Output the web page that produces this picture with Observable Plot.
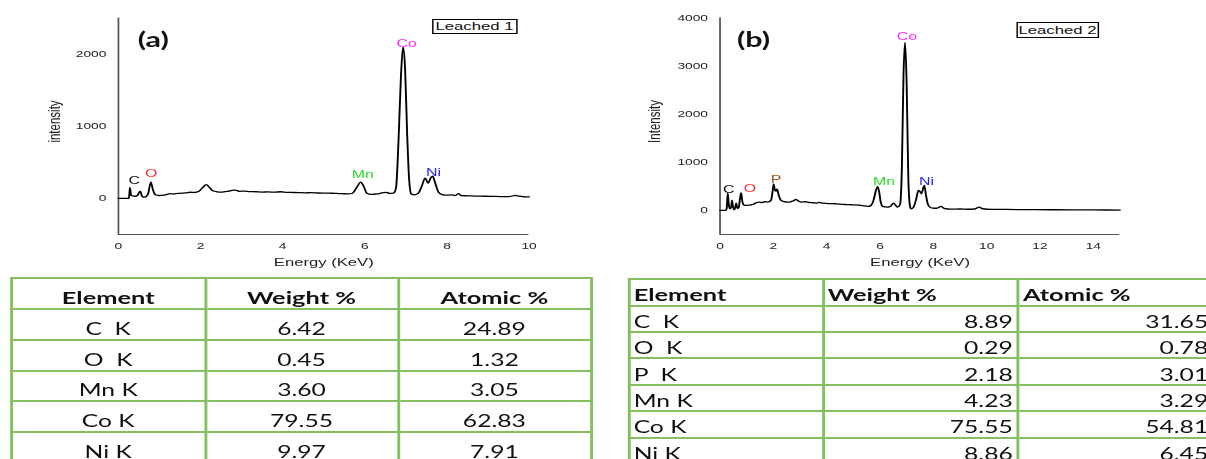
<!DOCTYPE html>
<html>
<head>
<meta charset="utf-8">
<script src="https://cdn.jsdelivr.net/npm/d3@7"></script>
<script src="https://cdn.jsdelivr.net/npm/@observablehq/plot@0.6"></script>
<style>
  html, body { margin: 0; padding: 0; background: #fff; overflow: hidden; width: 1206px; height: 459px; }
  #stage { position: relative; height: 459px; transform-origin: 0 0; overflow: hidden; }
  .panel { position: absolute; top: 0; }
  .legend { position: absolute; box-sizing: border-box; border: 1px solid #000; background: #fff;
            font-family: 'Liberation Sans', Arial, sans-serif; font-size: 11.5px; color: #111;
            text-align: center; white-space: pre; }
  .tbl { position: absolute; border-collapse: collapse; table-layout: fixed; font-family: Lato, sans-serif; color: #111; }
  .tbl td, .tbl th { border: 2px solid #86bf60; padding: 0; overflow: hidden; white-space: pre; vertical-align: middle; line-height: 1; }
  .tbl th { font-weight: bold; font-size: 17.5px; }
  .tbl td { font-weight: normal; font-size: 17px; }
</style>
</head>
<body>
<div id="stage"></div>
<script>
// ---------- data ----------
// Spectrum (a) "Leached 1": [energy keV, intensity counts]
const spectrumA = [
  [0,0],[0.25,0],[0.26,20],[0.28,148],[0.31,40],[0.36,35],[0.42,30],[0.47,45],[0.53,101],[0.58,25],
  [0.65,18],[0.72,60],[0.79,226],[0.84,120],[0.9,50],[0.98,40],[1.05,42],[1.15,50],[1.25,65],[1.35,62],
  [1.45,70],[1.55,72],[1.65,78],[1.75,85],[1.85,82],[1.95,95],[2.05,150],[2.14,190],[2.22,150],[2.3,105],
  [2.4,92],[2.5,88],[2.6,95],[2.7,100],[2.8,115],[2.88,110],[2.95,98],[3.05,101],[3.2,94],[3.35,92],
  [3.5,88],[3.65,90],[3.8,86],[3.95,92],[4.1,84],[4.25,82],[4.4,80],[4.55,78],[4.7,79],[4.85,75],
  [5.0,73],[5.15,72],[5.3,70],[5.45,65],[5.6,62],[5.7,72],[5.8,150],[5.9,226],[5.97,170],[6.05,70],
  [6.15,55],[6.3,62],[6.45,80],[6.52,83],[6.6,70],[6.7,74],[6.76,150],[6.82,800],[6.88,1700],[6.93,2097],
  [6.98,1800],[7.03,900],[7.08,250],[7.13,60],[7.2,50],[7.3,70],[7.38,160],[7.47,281],[7.54,212],[7.6,280],
  [7.65,309],[7.72,200],[7.8,80],[7.9,50],[8.0,45],[8.1,48],[8.2,40],[8.28,65],[8.35,38],[8.5,36],
  [8.7,32],[8.9,30],[9.1,28],[9.3,26],[9.5,25],[9.67,42],[9.75,30],[9.9,22],[10.0,20]
];
// Spectrum (b) "Leached 2"
const spectrumB = [
  [0,0],[0.22,0],[0.25,40],[0.29,361],[0.33,120],[0.37,35],[0.42,80],[0.45,208],[0.49,60],[0.54,15],
  [0.58,90],[0.61,150],[0.65,40],[0.7,60],[0.75,250],[0.79,365],[0.84,180],[0.9,110],[0.98,104],[1.08,110],
  [1.16,118],[1.26,130],[1.35,160],[1.47,174],[1.58,165],[1.68,180],[1.79,174],[1.91,208],[1.96,350],[2.01,545],
  [2.06,420],[2.1,400],[2.14,440],[2.2,320],[2.29,208],[2.4,185],[2.54,174],[2.65,180],[2.75,200],[2.85,229],
  [2.92,200],[3.04,174],[3.2,180],[3.35,165],[3.5,160],[3.62,150],[3.72,167],[3.85,150],[4.0,145],[4.15,140],
  [4.29,139],[4.45,132],[4.6,125],[4.75,122],[4.91,118],[5.05,115],[5.2,110],[5.35,100],[5.54,83],[5.65,100],
  [5.75,200],[5.85,420],[5.91,493],[5.97,380],[6.03,160],[6.1,83],[6.2,75],[6.29,69],[6.4,90],[6.51,153],
  [6.58,110],[6.66,69],[6.75,120],[6.82,900],[6.88,2800],[6.94,3493],[7.0,2600],[7.06,700],[7.12,100],[7.16,35],
  [7.25,60],[7.35,220],[7.44,417],[7.5,390],[7.56,347],[7.61,450],[7.66,521],[7.72,330],[7.8,120],[7.91,56],
  [8.05,45],[8.15,50],[8.29,83],[8.4,45],[8.66,28],[9.0,30],[9.3,25],[9.55,30],[9.72,69],[9.85,35],
  [10.2,22],[10.7,20],[11.2,18],[11.8,15],[12.5,14],[13.2,12],[14.0,10],[15.0,8]
];

// Peak labels (element, energy keV, intensity)
const peakNamesA = ["C", "O", "Mn", "Co", "Ni"];
const peakKevA = [0.385, 0.80, 5.95, 7.02, 7.67];
const peakCountsA = [243, 346, 326, 2148, 360];
const peakNamesB = ["C", "O", "P", "Mn", "Co", "Ni"];
const peakKevB = [0.33, 1.12, 2.10, 6.15, 7.01, 7.74];
const peakCountsB = [437, 448, 646, 604, 3625, 604];

// Axes
const xDomainA = [0, 10];
const xTicksA = [0, 2, 4, 6, 8, 10];
const yDomainA = [-500, 2500];
const yTicksA = [0, 1000, 2000];
const xDomainB = [0, 15];
const xTicksB = [0, 2, 4, 6, 8, 10, 12, 14];
const yDomainB = [-500, 4000];
const yTicksB = [0, 1000, 2000, 3000, 4000];
const xTitle = "Energy (KeV)";
const yTitleA = "intensity";
const yTitleB = "Intensity";
const panelA = "(a)";
const panelB = "(b)";
const legendA = "Leached 1";
const legendB = "Leached 2";

// Tables
const tableHeader = ["Element", "Weight %", "Atomic %"];
const elementsA = ["C  K", "O  K", "Mn K", "Co K", "Ni K"];
const weightA = [6.42, 0.45, 3.60, 79.55, 9.97];
const atomicA = [24.89, 1.32, 3.05, 62.83, 7.91];
const elementsB = ["C  K", "O  K", "P  K", "Mn K", "Co K", "Ni K"];
const weightB = [8.89, 0.29, 2.18, 4.23, 75.55, 8.86];
const atomicB = [31.65, 0.78, 3.01, 3.29, 54.81, 6.45];

// Element colours
const elementOrder = ["C", "O", "P", "Mn", "Co", "Ni"];
const elementColors = ["#111111", "#ff3030", "#9a5a1e", "#2edb2e", "#ff2cff", "#2a2aee"];

// ---------- layout ----------
const S = 1.45;            // horizontal stretch of the figure
const u = v => v / S;      // reference px -> unstretched px
const stage = document.getElementById("stage");
stage.style.width = u(1206) + "px";
stage.style.transform = `scaleX(${S})`;
const plain = d => String(d);

function spectrumPlot(cfg) {
  const H = 275, frameBottom = 234;
  const frameMid = (cfg.frameTop + frameBottom) / 2;
  return Plot.plot({
    width: u(cfg.refWidth),
    height: H,
    marginLeft: u(cfg.axisLeft - cfg.refLeft),
    marginRight: u(cfg.refLeft + cfg.refWidth - cfg.axisRight),
    marginTop: cfg.frameTop,
    marginBottom: H - frameBottom,
    style: {fontFamily: "'Liberation Sans', Arial, sans-serif", fontSize: "9.5px", color: "#222", background: "transparent", overflow: "visible"},
    x: {domain: cfg.xDomain, ticks: cfg.xTicks, tickFormat: plain, tickSize: 0, tickPadding: 8, label: null},
    y: {domain: cfg.yDomain, ticks: cfg.yTicks, tickFormat: plain, tickSize: 0, tickPadding: u(12), label: null},
    color: {domain: elementOrder, range: elementColors},
    marks: [
      Plot.ruleX([cfg.xDomain[0]], {stroke: "#555", strokeWidth: 1.2}),
      Plot.ruleY([cfg.yDomain[0]], {stroke: "#555", strokeWidth: 1.2}),
      Plot.line(cfg.spectrum, {x: d => d[0], y: d => d[1], curve: "monotone-x", stroke: "#000", strokeWidth: 1.3}),
      Plot.text(cfg.peakNames, {x: cfg.peakKev, y: cfg.peakCounts, text: d => d, fill: d => d, fontSize: 11}),
      Plot.text([xTitle], {text: d => d, frameAnchor: "bottom", dy: 28, textAnchor: "middle", lineAnchor: "middle", fontSize: 11.5, fill: "#222"}),
      Plot.text([cfg.yTitle], {text: d => d, frameAnchor: "left", rotate: -90, dx: u(cfg.yTitleX - cfg.axisLeft), dy: 121 - frameMid, textAnchor: "middle", lineAnchor: "middle", fontSize: 11.5, fill: "#222"}),
      Plot.text([cfg.panel], {text: d => d, frameAnchor: "top-left", dx: u(cfg.panelX - cfg.axisLeft), dy: 40 - cfg.frameTop, textAnchor: "middle", lineAnchor: "middle", fontSize: 21, fontWeight: "bold", fontFamily: "Lato, sans-serif", fill: "#111"})
    ]
  });
}

function addPanel(cfg) {
  const div = document.createElement("div");
  div.className = "panel";
  div.style.left = u(cfg.refLeft) + "px";
  div.appendChild(spectrumPlot(cfg));
  stage.appendChild(div);
  const lg = document.createElement("div");
  lg.className = "legend";
  lg.textContent = cfg.legend;
  lg.style.left = u(cfg.legendBox[0]) + "px";
  lg.style.top = cfg.legendBox[1] + "px";
  lg.style.width = u(cfg.legendBox[2] - cfg.legendBox[0]) + "px";
  lg.style.height = (cfg.legendBox[3] - cfg.legendBox[1]) + "px";
  lg.style.lineHeight = (cfg.legendBox[3] - cfg.legendBox[1] - 2) + "px";
  stage.appendChild(lg);
}

addPanel({refLeft: 0, refWidth: 560, axisLeft: 117.7, axisRight: 528.4, frameTop: 17.5,
  xDomain: xDomainA, xTicks: xTicksA, yDomain: yDomainA, yTicks: yTicksA,
  spectrum: spectrumA, peakNames: peakNamesA, peakKev: peakKevA, peakCounts: peakCountsA,
  yTitle: yTitleA, yTitleX: 54, panel: panelA, panelX: 152.5,
  legend: legendA, legendBox: [432, 19, 517, 34]});

addPanel({refLeft: 600, refWidth: 606, axisLeft: 719, axisRight: 1119, frameTop: 17.5,
  xDomain: xDomainB, xTicks: xTicksB, yDomain: yDomainB, yTicks: yTicksB,
  spectrum: spectrumB, peakNames: peakNamesB, peakKev: peakKevB, peakCounts: peakCountsB,
  yTitle: yTitleB, yTitleX: 654, panel: panelB, panelX: 752.5,
  legend: legendB, legendBox: [1016, 22, 1099, 38]});

function addTable(cfg) {
  const t = document.createElement("table");
  t.className = "tbl";
  const widths = cfg.cols.slice(1).map((c, i) => u(c - cfg.cols[i]));
  t.style.left = (u(cfg.cols[0]) - 1) + "px";
  t.style.top = (cfg.rows[0] - 1) + "px";
  t.style.width = (d3.sum(widths) + 2) + "px";
  const cg = document.createElement("colgroup");
  widths.forEach(w => { const c = document.createElement("col"); c.style.width = w + "px"; cg.appendChild(c); });
  t.appendChild(cg);
  const body = [tableHeader].concat(cfg.elements.map((e, i) => [e, cfg.weight[i].toFixed(2), cfg.atomic[i].toFixed(2)]));
  body.forEach((row, r) => {
    const tr = document.createElement("tr");
    tr.style.height = (cfg.rows[r + 1] - cfg.rows[r]) + "px";
    row.forEach((v, c) => {
      const cell = document.createElement(r === 0 ? "th" : "td");
      cell.textContent = v;
      cell.style.textAlign = cfg.align(r, c);
      cell.style.paddingTop = cfg.shift + "px";
      cell.style.paddingLeft = "2px";
      cell.style.paddingRight = "3px";
      tr.appendChild(cell);
    });
    t.appendChild(tr);
  });
  stage.appendChild(t);
}

addTable({cols: [12.3, 205.6, 399, 591.3], rows: [278.3, 309.3, 340, 370.7, 401, 432.3, 463.3],
  elements: elementsA, weight: weightA, atomic: atomicA, shift: 8, align: () => "center"});
addTable({cols: [629.3, 823.5, 1018.6, 1214], rows: [279, 305.5, 331.7, 358.3, 385, 411, 437.7, 464],
  elements: elementsB, weight: weightB, atomic: atomicB, shift: 5,
  align: (r, c) => (r === 0 || c === 0) ? "left" : "right"});
</script>
</body>
</html>
